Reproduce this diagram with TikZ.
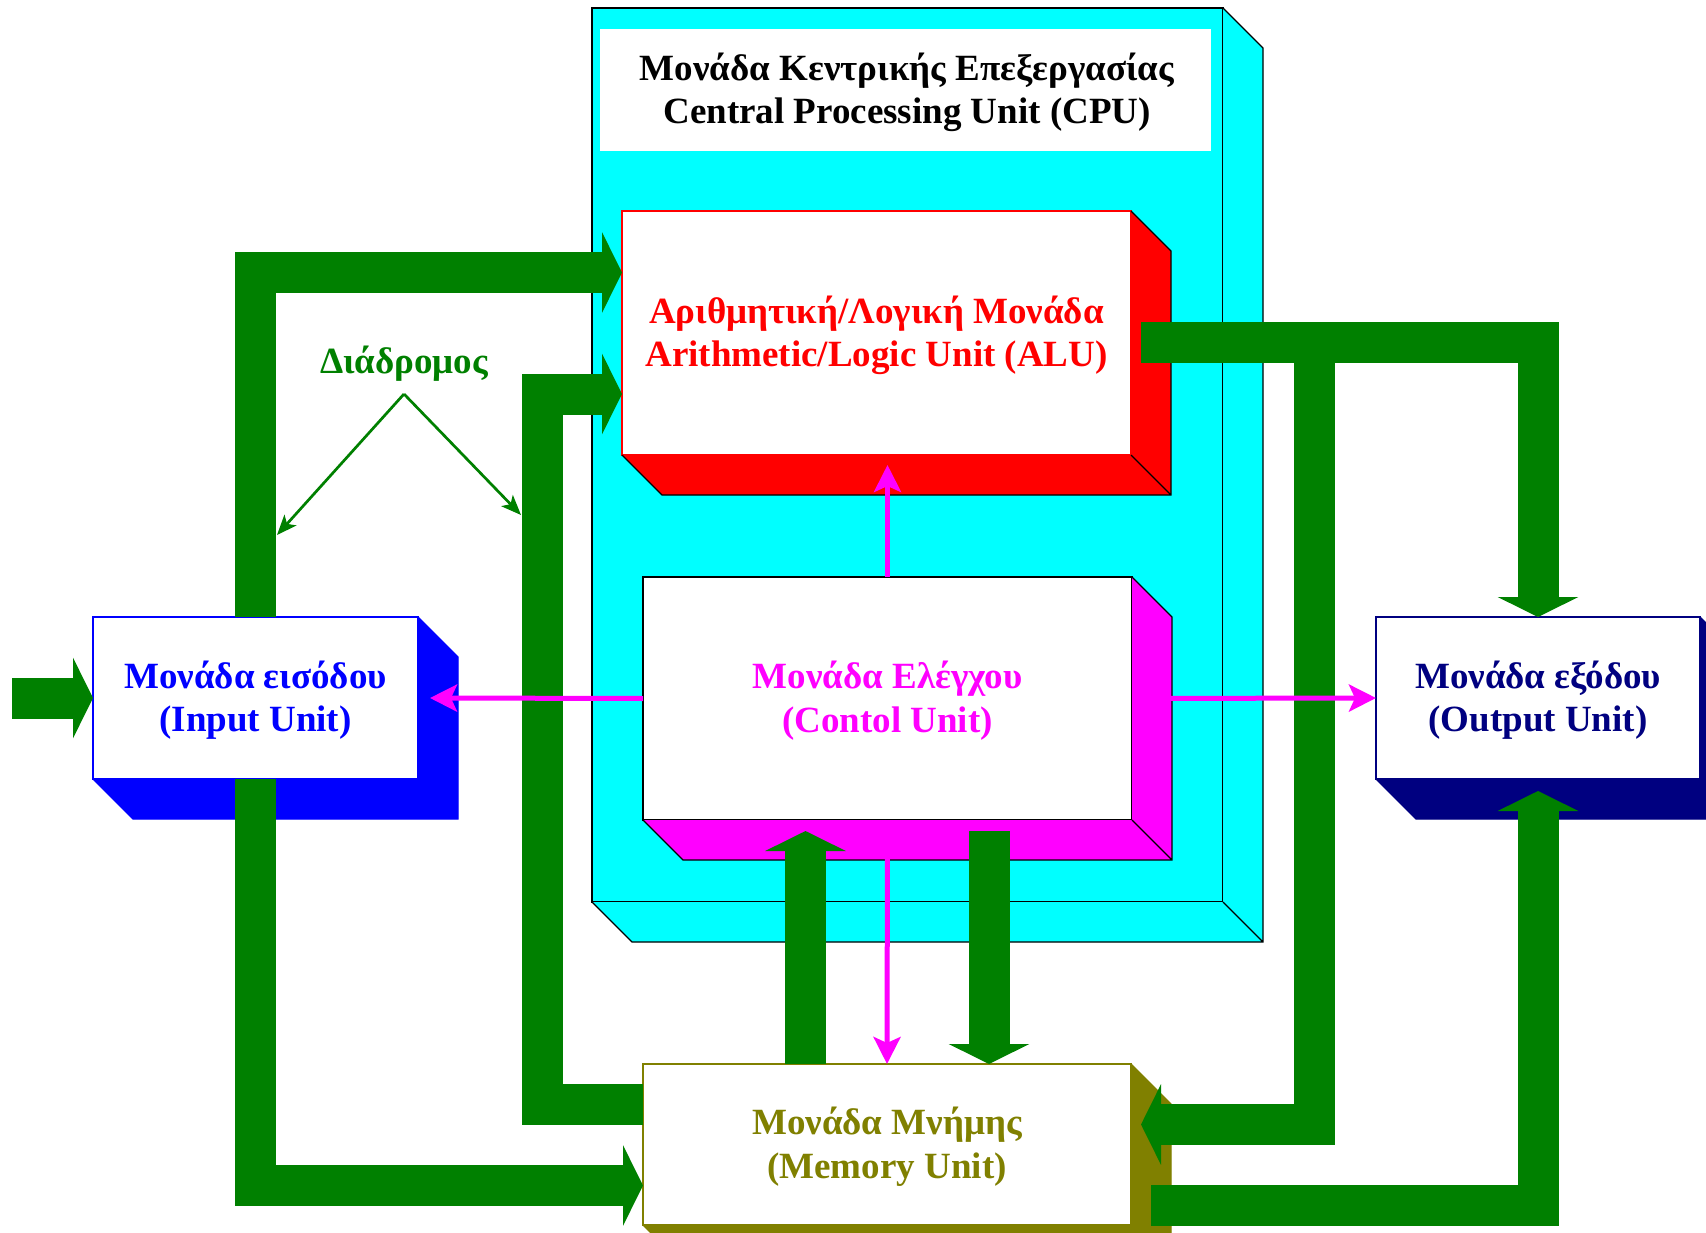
\documentclass[tikz,border=0pt]{standalone}
\usepackage{fontspec}
\setmainfont{Liberation Serif}
\usetikzlibrary{arrows.meta,calc}
\definecolor{busgreen}{RGB}{0,128,0}
\definecolor{navyc}{RGB}{0,0,128}
\definecolor{olivec}{RGB}{128,128,0}
\definecolor{cyanc}{RGB}{0,255,255}
\definecolor{magc}{RGB}{255,0,255}
\definecolor{redc}{RGB}{255,0,0}
\definecolor{bluec}{RGB}{0,0,255}
\newcommand{\sidefaces}[3]{%
  \fill[#2] (#1.north east) -- ($(#1.north east)+(40,40)$) -- ($(#1.south east)+(40,40)$) -- ($(#1.south west)+(40,40)$) -- (#1.south west) -- (#1.south east) -- cycle;
  \path[draw=#3,line width=1.3pt,line join=miter] (#1.north east) -- ($(#1.north east)+(40,40)$) -- ($(#1.south east)+(40,40)$) -- ($(#1.south west)+(40,40)$) -- (#1.south west)
    (#1.south east) -- ($(#1.south east)+(40,40)$);}
\begin{document}
\begin{tikzpicture}[x=1pt,y=-1pt,
  bigtext/.style={font=\bfseries\fontsize{37}{43.5}\selectfont},
  unitface/.style={rectangle, fill=white, line width=1.5pt, inner sep=0pt, outer sep=0pt},
  facetext/.style={inner sep=0pt, align=center, bigtext, yshift=-2.2pt},
  bus/.style={line width=41pt, busgreen, line cap=butt, line join=miter, -{Triangle[length=20pt,width=80pt]}},
  ctl/.style={line width=5pt, magc, -{Stealth[length=27pt,width=27pt,inset=6pt]}},
  hint/.style={line width=2.7pt, busgreen, -{Stealth[length=20pt,width=16pt,inset=5pt]}}]
\useasboundingbox (0,0) rectangle (1706,1233);
\clip (0,0) rectangle (1706,1233);
\fill[white] (0,0) rectangle (1706,1233);
% CPU
\node[draw=black, fill=cyanc, line width=1.5pt, minimum width=631, minimum height=894, inner sep=0pt, outer sep=0pt] (cpu) at (907.5,455) {};
\sidefaces{cpu}{cyanc}{black}
\node[fill=white, minimum width=611, minimum height=122, inner sep=0pt] (title) at (905.5,90) {};
\node[facetext, xshift=1.5pt] (titletext) at (title.center) {Μονάδα Κεντρικής Επεξεργασίας\\Central Processing Unit (CPU)};
% ALU
\node[unitface, draw=redc, minimum width=509, minimum height=244] (alu) at (876.5,333) {};
\sidefaces{alu}{redc}{black}
\node[facetext, text=redc] (alutext) at (alu.center) {Αριθμητική/Λογική Μονάδα\\Arithmetic/Logic Unit (ALU)};
% Control
\node[unitface, draw=black, minimum width=489, minimum height=243] (ctrl) at (887.5,698.5) {};
\sidefaces{ctrl}{magc}{black}
\node[facetext, text=magc] (ctrltext) at (ctrl.center) {Μονάδα Ελέγχου\\(Contol Unit)};
% Input
\node[unitface, draw=bluec, minimum width=325, minimum height=162] (inp) at (255.5,698) {};
\sidefaces{inp}{bluec}{bluec}
\node[facetext, text=bluec] (inptext) at (inp.center) {Μονάδα εισόδου\\(Input Unit)};
% Output
\node[unitface, draw=navyc, minimum width=324, minimum height=162] (out) at (1538,698) {};
\sidefaces{out}{navyc}{navyc}
\node[facetext, text=navyc] (outtext) at (out.center) {Μονάδα εξόδου\\(Output Unit)};
% Memory
\node[unitface, draw=olivec, minimum width=488, minimum height=161] (mem) at (887,1144.5) {};
\sidefaces{mem}{olivec}{olivec}
\node[facetext, text=olivec] (memtext) at (mem.center) {Μονάδα Μνήμης\\(Memory Unit)};
% named bus ends
\coordinate (src) at (12,698);
\coordinate (aluIn1) at ($(alu.north west)+(0,61.5)$);
\coordinate (aluIn2) at ($(alu.north west)+(0,183)$);
\coordinate (memOut1) at ($(mem.north west)+(0,40.5)$);
\coordinate (memIn1) at ($(mem.north west)+(0,121.5)$);
\coordinate (memUp) at ($(mem.north west)+(162.5,0)$);
\coordinate (ctrlUp) at ($(ctrl.south west)+(162.5,11)$);
\coordinate (ctrlDn) at ($(ctrl.south west)+(346,11)$);
\coordinate (memDn) at ($(mem.north west)+(346,0)$);
\coordinate (aluOut) at ($(alu.north east)+(10,132)$);
\coordinate (junc) at (1314.5,323);
\coordinate (memIn2) at ($(mem.north east)+(10,60.5)$);
\coordinate (memOut2) at ($(mem.north east)+(20,141.5)$);
\coordinate (outIn2) at ($(out.south)+(0,12)$);
% buses
\draw[bus] (src) -- (inp.west);
\draw[bus] (inp.north) |- (aluIn1);
\draw[bus] (memOut1) -- ++(-100.5,0) |- (aluIn2);
\draw[bus] (inp.south) |- (memIn1);
\draw[bus] (memUp) -- (ctrlUp);
\draw[bus] (ctrlDn) -- (memDn);
\draw[bus] (aluOut) -| (out.north);
\draw[bus] (junc) |- (memIn2);
\draw[bus] (memOut2) -| (outIn2);
% control signals
\coordinate (aluTip) at ($(alu.south west)+(265.5,10)$);
\coordinate (inpTip) at ($(inp.east)+(12,0)$);
\draw[ctl] (ctrl.north) -- (aluTip);
\draw[ctl] (ctrl.west) -- (inpTip);
\draw[ctl] (ctrl.east) -- (out.west);
\draw[ctl] (ctrl.south) -- (mem.north);
% bus label
\node[text=busgreen, bigtext] (buslabel) at (404,364) {Διάδρομος};
\coordinate (apex) at (404,394);
\coordinate (hintL) at (277,535);
\coordinate (hintR) at (521,515);
\draw[hint] (apex) -- (hintL);
\draw[hint] (apex) -- (hintR);
\end{tikzpicture}
\end{document}
